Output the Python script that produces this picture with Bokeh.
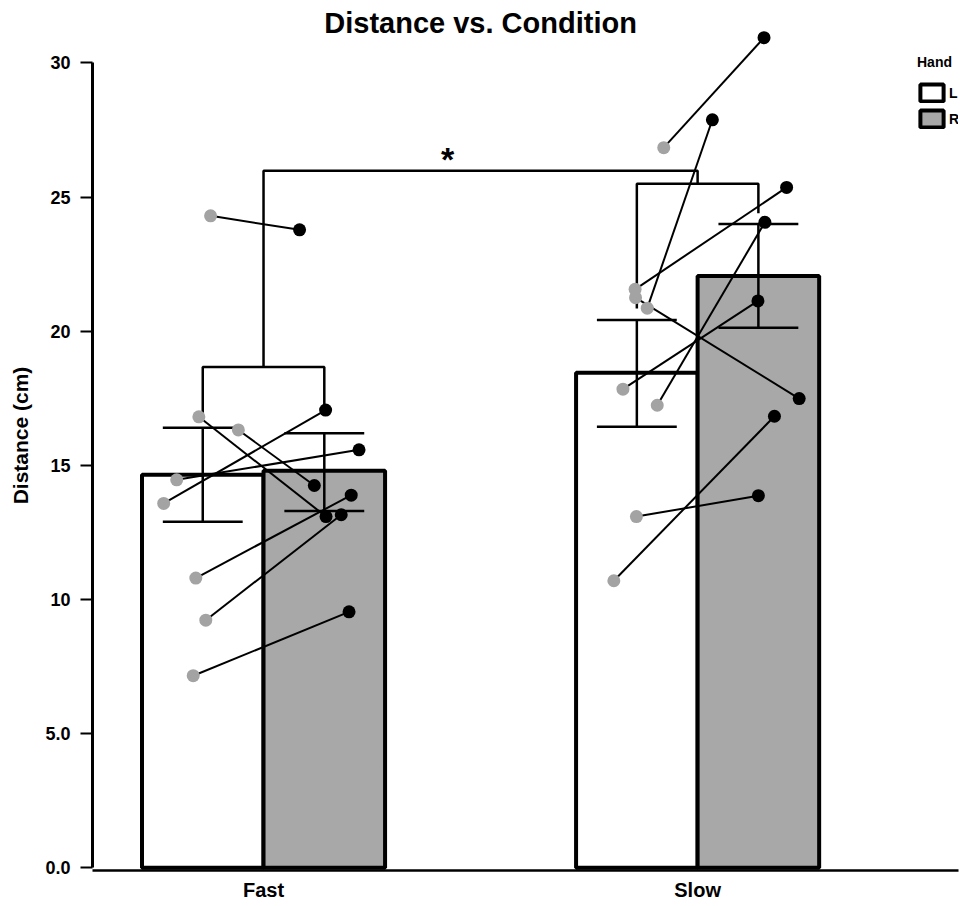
import numpy as np
from bokeh.plotting import figure
from bokeh.models import Legend, LegendItem, Label, FixedTicker, Range1d
from bokeh.embed import file_html
from bokeh.resources import INLINE

# ---------------- data ----------------
conditions = ["Fast", "Slow"]
hands = ["L", "R"]
mean_L = [14.65, 18.45]
mean_R = [14.80, 22.06]
err_low_L = [12.90, 16.44]
err_high_L = [16.40, 20.42]
err_low_R = [13.30, 20.13]
err_high_R = [16.20, 24.00]

fast_L = [24.30, 16.81, 16.32, 14.46, 13.58, 10.80, 9.23, 7.16]
fast_R = [23.78, 13.09, 14.25, 15.58, 17.06, 13.89, 13.16, 9.54]
fast_L_jitter = [-0.122, -0.149, -0.058, -0.200, -0.230, -0.156, -0.133, -0.162]
fast_R_jitter = [0.083, 0.144, 0.117, 0.220, 0.143, 0.202, 0.179, 0.197]
slow_L = [26.84, 20.86, 21.56, 21.25, 17.24, 17.84, 13.09, 10.70]
slow_R = [30.94, 27.88, 25.36, 17.49, 24.06, 21.13, 13.87, 16.83]
slow_L_jitter = [-0.078, -0.116, -0.144, -0.143, -0.093, -0.172, -0.141, -0.193]
slow_R_jitter = [0.153, 0.034, 0.205, 0.234, 0.155, 0.139, 0.140, 0.177]

pair_bracket_y = [18.67, 25.50]
pair_leg_bottom_L = [16.95, 20.85]
pair_leg_bottom_R = [16.95, 24.40]
top_bracket_y = 25.98
sig_label = "*"

y_ticks = [0, 5, 10, 15, 20, 25, 30]
y_tick_labels = ["0.0", "5.0", "10", "15", "20", "25", "30"]

# ---------------- layout helpers ----------------
FONT = "Liberation Sans"
grp = np.arange(1, len(conditions) + 1, dtype=float)
bar_w = 0.28
off = 0.14
xL = grp - off
xR = grp + off
cap = 0.184

p = figure(frame_width=866, frame_height=870, output_backend="svg", toolbar_location=None,
           x_range=Range1d(0.606, 2.601), y_range=Range1d(-0.1, 32.326),
           min_border_left=92, min_border_right=6, min_border_top=0, min_border_bottom=32)
p.title = None
p.outline_line_color = None
p.xgrid.visible = False
p.ygrid.visible = False
p.background_fill_color = "white"

# bars
rL = p.vbar(x=xL, top=mean_L, bottom=0, width=bar_w, fill_color="white",
            line_color="black", line_width=4)
rR = p.vbar(x=xR, top=mean_R, bottom=0, width=bar_w, fill_color="#a8a8a8",
            line_color="black", line_width=4)

# error bars
for xc, lo, hi in ((xL, err_low_L, err_high_L), (xR, err_low_R, err_high_R)):
    p.segment(x0=xc, x1=xc, y0=lo, y1=hi, line_color="black", line_width=2.5)
    p.segment(x0=xc - cap / 2, x1=xc + cap / 2, y0=lo, y1=lo, line_color="black", line_width=2.5)
    p.segment(x0=xc - cap / 2, x1=xc + cap / 2, y0=hi, y1=hi, line_color="black", line_width=2.5)

# brackets
bxs, bys = [], []
for i in range(len(conditions)):
    bxs.append([xL[i], xL[i], xR[i], xR[i]])
    bys.append([pair_leg_bottom_L[i], pair_bracket_y[i], pair_bracket_y[i], pair_leg_bottom_R[i]])
bxs.append([grp[0], grp[0], grp[1], grp[1]])
bys.append([pair_bracket_y[0], top_bracket_y, top_bracket_y, pair_bracket_y[1]])
p.multi_line(xs=bxs, ys=bys, line_color="black", line_width=2.5)

p.add_layout(Label(x=1.424, y=top_bracket_y + 0.44, text=sig_label, text_font=FONT,
                   text_font_style="bold", text_font_size="34px", text_align="center",
                   text_baseline="middle", text_color="black"))

# subject points and lines
groups = [(fast_L, fast_R, fast_L_jitter, fast_R_jitter, grp[0]),
          (slow_L, slow_R, slow_L_jitter, slow_R_jitter, grp[1])]
for lv, rv, lj, rj, gx in groups:
    lx = gx + np.array(lj)
    rx = gx + np.array(rj)
    p.segment(x0=lx, y0=lv, x1=rx, y1=rv, line_color="black", line_width=2)
for lv, rv, lj, rj, gx in groups:
    lx = gx + np.array(lj)
    rx = gx + np.array(rj)
    p.scatter(x=lx, y=lv, size=13, fill_color="#a3a3a3", line_color=None)
    p.scatter(x=rx, y=rv, size=13, fill_color="black", line_color=None)

# title
p.add_layout(Label(x=1.5, y=31.5, text="Distance vs. Condition", text_font=FONT,
                   text_font_style="bold", text_font_size="29px", text_align="center",
                   text_baseline="middle", text_color="black"))

# axes
p.yaxis.ticker = FixedTicker(ticks=y_ticks)
p.yaxis.major_label_overrides = {t: l for t, l in zip(y_ticks, y_tick_labels)}
p.yaxis.bounds = (y_ticks[0], y_ticks[-1])
p.yaxis.axis_line_width = 3
p.yaxis.axis_line_color = "black"
p.yaxis.major_tick_line_width = 2
p.yaxis.major_tick_line_color = "black"
p.yaxis.major_tick_out = 12
p.yaxis.major_tick_in = 0
p.yaxis.minor_tick_line_color = None
p.yaxis.major_label_standoff = 10
p.yaxis.major_label_text_font = FONT
p.yaxis.major_label_text_font_style = "bold"
p.yaxis.major_label_text_font_size = "18px"
p.yaxis.major_label_text_color = "black"
p.yaxis.axis_label = "Distance (cm)"
p.yaxis.axis_label_text_font = FONT
p.yaxis.axis_label_text_font_style = "bold"
p.yaxis.axis_label_text_font_size = "21px"
p.yaxis.axis_label_text_color = "black"
p.yaxis.axis_label_standoff = 10

p.xaxis.ticker = FixedTicker(ticks=list(grp))
p.xaxis.major_label_overrides = {float(g): c for g, c in zip(grp, conditions)}
p.xaxis.axis_line_width = 2.5
p.xaxis.axis_line_color = "black"
p.xaxis.major_tick_line_color = None
p.xaxis.major_tick_out = 0
p.xaxis.major_tick_in = 0
p.xaxis.minor_tick_line_color = None
p.xaxis.major_label_standoff = 8
p.xaxis.major_label_text_font = FONT
p.xaxis.major_label_text_font_style = "bold"
p.xaxis.major_label_text_font_size = "20px"
p.xaxis.major_label_text_color = "black"

# legend
legend = Legend(items=[LegendItem(label=hands[0], renderers=[rL]),
                       LegendItem(label=hands[1], renderers=[rR])],
                location=(825, 741), title="Hand", title_text_font=FONT,
                title_text_font_style="bold", title_text_font_size="14px",
                title_text_color="black",
                title_standoff=12, label_text_font=FONT, label_text_font_style="bold",
                label_text_font_size="14px", label_text_color="black",
                glyph_width=29, glyph_height=21,
                spacing=5, label_standoff=3, padding=0, margin=0,
                border_line_color=None, background_fill_alpha=0)
p.add_layout(legend)

open("out.html", "w").write(file_html(p, INLINE))
